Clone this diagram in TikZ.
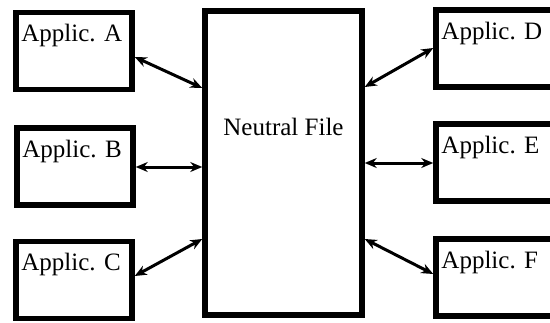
\documentclass[tikz,border=0pt]{standalone}
\usepackage{fontspec}
\setmainfont{Liberation Serif}
\usetikzlibrary{arrows.meta}

\tikzset{
  appbox/.style={draw, line width=5.5pt, rectangle, inner sep=0pt,
    minimum width=116pt, minimum height=77pt},
  filebox/.style={draw, line width=5.5pt, rectangle, inner sep=0pt,
    minimum width=157pt, minimum height=304pt},
  lbl/.style={inner sep=0pt, font=\fontsize{25}{30}\selectfont},
  link/.style={line width=3pt, {Stealth[length=12pt,width=10pt]}-{Stealth[length=12pt,width=10pt]}}
}

\begin{document}
\begin{tikzpicture}[x=1pt, y=-1pt]
\clip (0,0) rectangle (550,322);

% neutral file in the middle
\node[filebox] (neutral) at (283.5,163) {};
\node[lbl, anchor=base] (nftext) at (283.5,135) {Neutral File};

% applications on the left
\node[appbox] (appA) at (74,51) {};
\node[appbox] (appB) at (75,166.5) {};
\node[appbox] (appC) at (74,280) {};

% applications on the right (cut off by the page)
\node[appbox, minimum width=134pt] (appD) at (503,48.5) {};
\node[appbox, minimum width=134pt] (appE) at (503,162.5) {};
\node[appbox, minimum width=134pt] (appF) at (503,277.5) {};

\foreach \a in {A,B,C,D,E,F}
{
  \node[lbl, anchor=base west] (txt\a) at ([shift={(8,32)}]app\a.north west) {Applic. \a};
}

% links
\draw[link] ([shift={(0,6)}]appA.east) -- ([shift={(0,-75)}]neutral.west);
\draw[link] ([shift={(0,0.5)}]appB.east) -- ([shift={(0,4)}]neutral.west);
\draw[link] ([shift={(0,-4)}]appC.east) -- ([shift={(0,76)}]neutral.west);
\draw[link] ([shift={(0,-76)}]neutral.east) -- ([shift={(0,-0.5)}]appD.west);
\draw[link] ([shift={(0,0)}]neutral.east) -- ([shift={(0,0.5)}]appE.west);
\draw[link] ([shift={(0,76)}]neutral.east) -- ([shift={(0,-3.5)}]appF.west);
\end{tikzpicture}
\end{document}
